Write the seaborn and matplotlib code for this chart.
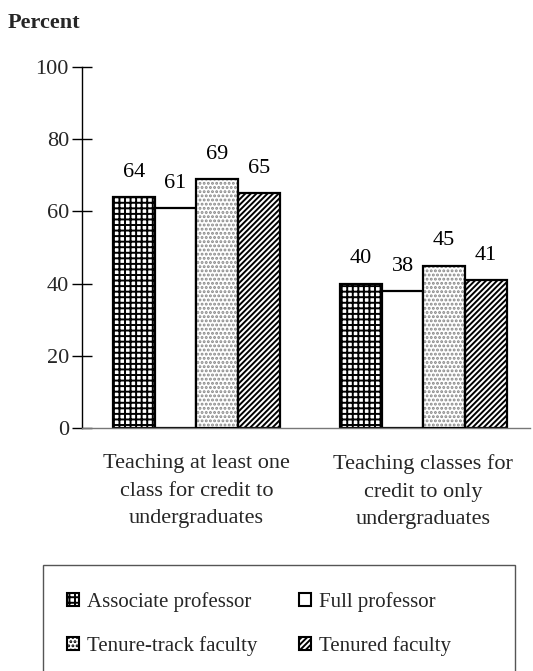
import matplotlib
matplotlib.use("Agg")
import matplotlib.pyplot as plt
import matplotlib.patches as mpatches
import seaborn as sns
import pandas as pd

categories = ["Teaching at least one\nclass for credit to\nundergraduates",
              "Teaching classes for\ncredit to only\nundergraduates"]
series = ["Associate professor", "Full professor", "Tenure-track faculty", "Tenured faculty"]
assoc = [64, 40]
full = [61, 38]
track = [69, 45]
tenured = [65, 41]
yticks = [0, 20, 40, 60, 80, 100]

rows = []
for name, vals in zip(series, [assoc, full, track, tenured]):
    for c, v in zip(categories, vals):
        rows.append({"cat": c, "series": name, "value": v})
df = pd.DataFrame(rows)

sns.set_theme(style="white")
plt.rcParams["font.family"] = ["Liberation Serif", "DejaVu Serif"]
plt.rcParams["hatch.linewidth"] = 1.4
FS = 16

fig = plt.figure(figsize=(5.33, 6.71), dpi=100)
ax = fig.add_axes([0.154, 0.362, 0.840, 0.538])

sns.barplot(data=df, x="cat", y="value", hue="series", order=categories,
            hue_order=series, width=0.735, ax=ax, legend=False,
            palette=["white"] * 4, edgecolor="black", linewidth=1.6,
            saturation=1, err_kws={"linewidth": 0})

hatches = ["+++", "", "....", "//////"]
hatch_cols = ["black", "black", "#888888", "black"]
for cont, h, hc in zip(ax.containers, hatches, hatch_cols):
    for p in cont.patches:
        p.set_hatch(h)
        p.set_edgecolor(hc)
        p.set_linewidth(0 if hc != "black" else 1.6)
        if hc != "black":
            bb = p.get_bbox()
            ax.add_patch(mpatches.Rectangle((bb.x0, bb.y0), bb.width, bb.height,
                                            fill=False, edgecolor="black", linewidth=1.6, zorder=3))
    ax.bar_label(cont, labels=[f"{v:.0f}" for v in cont.datavalues], padding=11,
                 fontsize=FS, color="black")

ax.set_ylim(0, 100)
ax.set_xlim(-0.504, 1.469)
ax.set_yticks(yticks)
ax.set_yticklabels([str(t) for t in yticks], fontsize=FS)
ax.tick_params(axis="y", direction="inout", length=15, width=1, color="black", pad=2, left=True)
ax.tick_params(axis="x", length=0, pad=19)
ax.set_xticklabels(categories, fontsize=FS, linespacing=1.6)
ax.set_xlabel("")
ax.set_ylabel("")
for s in ["top", "right"]:
    ax.spines[s].set_visible(False)
ax.spines["left"].set_color("black")
ax.spines["left"].set_linewidth(1)
ax.spines["bottom"].set_color("#777777")
ax.spines["bottom"].set_linewidth(1)

fig.text(0.015, 0.965, "Percent", fontsize=FS, fontweight="bold", ha="left", va="center")

# legend
LFS = 15
handles = []
for h, hc in zip(hatches, hatch_cols):
    handles.append(mpatches.Patch(facecolor="white", edgecolor="black", hatch=h, linewidth=1.5))
order = [0, 2, 1, 3]
leg = fig.legend([handles[i] for i in order], [series[i] for i in order], ncol=2,
                 loc="upper left", bbox_to_anchor=(0.106, 0.133), frameon=False,
                 fontsize=LFS, handlelength=0.6, handleheight=0.6, handletextpad=0.35,
                 columnspacing=2.0, labelspacing=1.15, borderpad=0)
fig.patches.append(mpatches.Rectangle((0.081, -0.01), 0.885, 0.168, transform=fig.transFigure,
                                      fill=False, edgecolor="#555555", linewidth=1))

fig.savefig("out.png", dpi=100)
